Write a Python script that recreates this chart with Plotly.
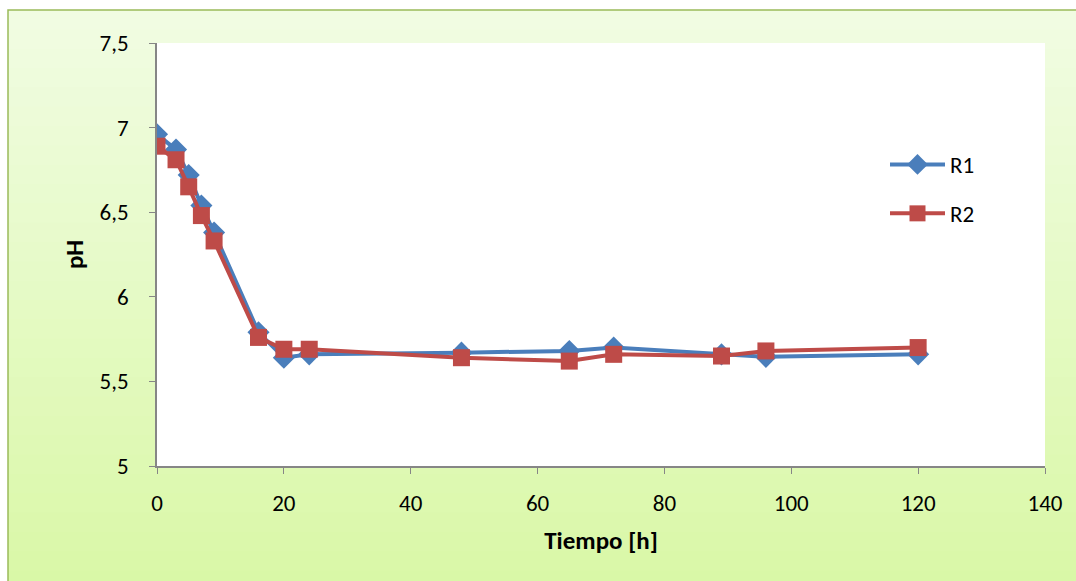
import plotly.graph_objects as go

tiempo = [0, 3, 5, 7, 9, 16, 20, 24, 48, 65, 72, 89, 96, 120]
r1 = [6.96, 6.87, 6.72, 6.54, 6.38, 5.79, 5.64, 5.66, 5.67, 5.68, 5.70, 5.66, 5.645, 5.66]
r2 = [6.89, 6.81, 6.65, 6.48, 6.33, 5.76, 5.69, 5.69, 5.64, 5.62, 5.66, 5.65, 5.68, 5.70]

W, H = 1076, 581
L, R, T, B = 157, 1045, 43, 466

def px(x):
    return (x - L) / (R - L)

def py(y):
    return (B - y) / (B - T)

fig = go.Figure()
fig.add_trace(go.Scatter(x=tiempo, y=r1, name="R1", mode="lines+markers",
                         line=dict(color="#4a7ebb", width=4),
                         marker=dict(symbol="diamond", size=17, color="#4a7ebb"),
                         legendgroup="a"))
fig.add_trace(go.Scatter(x=tiempo, y=r2, name="R2", mode="lines+markers",
                         line=dict(color="#be4b48", width=4),
                         marker=dict(symbol="square", size=17, color="#be4b48"),
                         legendgroup="b"))

# background gradient bands
shapes = []
top_c = (241, 252, 227)
bot_c = (217, 248, 166)
n = 30
y0, y1 = 10, 590
for i in range(n):
    a = y0 + (y1 - y0) * i / n
    b = y0 + (y1 - y0) * (i + 1) / n + 1
    t = (i + 0.5) / n
    c = tuple(int(round(top_c[k] + (bot_c[k] - top_c[k]) * t)) for k in range(3))
    shapes.append(dict(type="rect", xref="paper", yref="paper", layer="below",
                       x0=px(8), x1=px(1090), y0=py(b), y1=py(a),
                       fillcolor="rgb(%d,%d,%d)" % c, line=dict(width=0)))
shapes.append(dict(type="rect", xref="paper", yref="paper", layer="below",
                   x0=px(8), x1=px(1090), y0=py(600), y1=py(10),
                   fillcolor="rgba(0,0,0,0)", line=dict(color="#9bbb59", width=1.5)))
shapes.append(dict(type="rect", xref="paper", yref="paper", layer="below",
                   x0=0, x1=1, y0=0, y1=1, fillcolor="white", line=dict(width=0)))

font = "Carlito, Lato, 'Open Sans', sans-serif"
fig.update_layout(
    width=W, height=H,
    margin=dict(l=L, r=W - R, t=T, b=H - B),
    paper_bgcolor="white", plot_bgcolor="rgba(0,0,0,0)",
    separators=",.",
    font=dict(family=font, size=23, color="black"),
    shapes=shapes,
    showlegend=True,
    legend=dict(x=px(885), y=py(143), xanchor="left", yanchor="top",
                bgcolor="rgba(0,0,0,0)", font=dict(size=23),
                itemwidth=55, tracegroupgap=16, traceorder="grouped"),
    xaxis=dict(range=[0, 140], tickvals=[0, 20, 40, 60, 80, 100, 120, 140],
               showgrid=False, zeroline=False, showline=True, linecolor="#868686",
               linewidth=1.5, ticks="outside", ticklen=6, tickcolor="#868686",
               ticklabelstandoff=10,
               title=dict(text="<b>Tiempo [h]</b>", font=dict(size=25), standoff=15)),
    yaxis=dict(range=[5, 7.5], tickvals=[5, 5.5, 6, 6.5, 7, 7.5],
               showgrid=False, zeroline=False, showline=True, linecolor="#868686",
               linewidth=1.5, ticks="outside", ticklen=6, tickcolor="#868686",
               ticklabelstandoff=16,
               title=dict(text="<b>pH</b>", font=dict(size=25), standoff=9)),
)

fig.write_html("out.html")
